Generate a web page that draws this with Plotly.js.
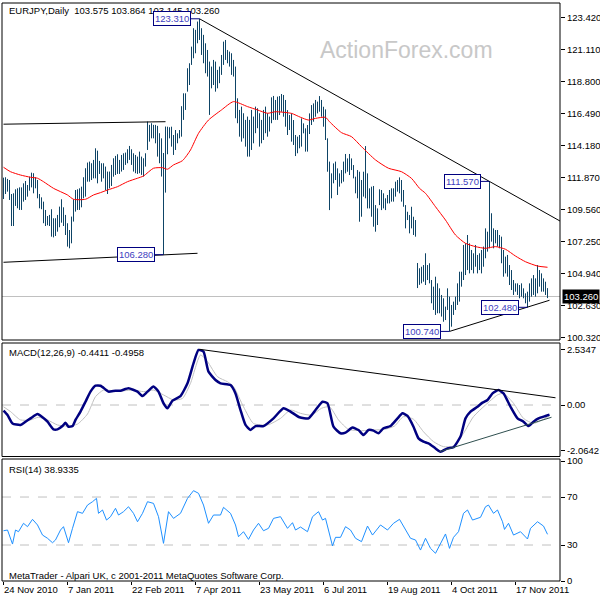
<!DOCTYPE html>
<html><head><meta charset="utf-8">
<script src="https://cdn.plot.ly/plotly-3.0.1.min.js"></script>
<style>html,body{margin:0;padding:0;background:#fff}#chart{width:600px;height:600px}</style>
</head><body><div id="chart"></div>
<script>
// ---------- DATA ----------
const symbolTitle = 'EURJPY,Daily';
const lastOHLC = [103.575, 103.864, 103.145, 103.260];
const macdTitle = 'MACD(12,26,9) -0.4411 -0.4958';
const rsiTitle = 'RSI(14) 38.9335';
const footerText = 'MetaTrader - Alpari UK, c 2001-2011 MetaQuotes Software Corp.';
const watermark = 'ActionForex.com';

const dateLabels = ['24 Nov 2010','7 Jan 2011','22 Feb 2011','7 Apr 2011','23 May 2011','6 Jul 2011','19 Aug 2011','4 Oct 2011','17 Nov 2011'];
const dateLabelIdx = [0,32,64,96,128,160,192,224,256];

const priceTicks = [123.42,121.11,118.80,116.49,114.18,111.87,109.56,107.25,104.94,102.63,100.32];
const macdTicks = [2.5347, 0, -2.0642];
const macdTickText = ['2.5347','0.00','-2.0642'];
const rsiTicks = [100,70,30,0];

// daily bar highs (index 0 = 24 Nov 2010)
const highs = [
111.84,111.87,111.75,111.67,110.66,110.71,111.00,111.07,111.14,111.14,
111.43,111.60,111.31,111.91,112.20,112.16,111.87,111.67,110.66,110.42,
110.11,109.51,109.07,109.15,109.56,108.91,108.91,109.15,109.75,110.28,
109.70,109.15,108.55,108.06,109.03,110.28,110.95,111.00,111.07,111.19,
111.87,112.52,112.93,113.00,112.88,113.12,113.96,113.79,113.05,112.88,
112.88,112.64,112.28,112.28,112.76,113.24,113.41,113.53,113.12,113.48,
113.60,113.65,113.89,114.13,113.89,113.60,113.48,113.36,113.72,
113.36,113.24,113.60,115.89,115.65,115.77,115.65,115.65,115.58,115.05,
114.68,113.62,115.53,115.52,115.48,115.52,114.92,115.28,115.04,115.28,
117.00,117.93,117.93,119.74,120.10,121.30,122.63,122.51,123.11,123.31,
122.63,122.15,121.54,121.06,120.22,119.86,120.34,120.22,119.62,119.86,
120.70,121.66,121.78,121.06,120.94,120.82,120.34,119.86,117.57,116.73,
116.97,116.49,116.01,116.25,116.01,116.73,116.25,116.97,116.85,116.49,
116.01,116.73,116.97,116.49,116.25,117.64,117.74,117.45,117.69,
117.73,117.88,117.81,117.45,116.72,116.36,116.48,116.00,114.92,114.80,
114.92,116.12,115.76,115.40,115.64,116.48,117.08,117.20,117.45,117.33,
117.73,117.45,116.96,116.77,114.68,113.00,112.15,112.87,113.00,112.51,
112.15,112.39,113.00,113.55,113.23,113.55,113.23,112.75,111.91,112.39,
112.27,111.67,112.27,114.12,112.15,111.07,111.19,111.24,109.86,109.62,
111.00,110.95,110.71,110.35,110.59,110.95,111.07,111.07,111.55,111.67,
111.86,111.67,110.95,109.86,109.38,109.14,109.74,109.02,108.78,
105.68,105.30,105.41,105.53,106.38,105.53,105.66,104.45,103.97,104.69,
104.21,103.85,103.37,103.13,102.53,103.85,103.25,102.65,102.89,103.25,
104.21,105.05,105.05,106.98,107.10,107.70,107.10,106.62,106.38,106.98,
106.26,106.38,106.62,106.86,108.18,107.94,111.57,109.27,108.18,108.06,
108.06,107.70,107.58,106.62,106.14,106.26,105.53,105.17,104.45,104.21,
104.21,104.09,104.21,103.85,103.49,103.61,104.21,104.57,104.81,104.57,
105.53,105.17,104.93,104.57,104.33,103.864
];
// daily bar lows
const lows = [
110.30,110.66,110.83,110.23,108.35,108.35,109.80,109.63,109.51,109.51,
110.11,110.23,110.47,110.90,111.14,110.71,111.07,110.35,109.63,109.56,
108.55,108.35,108.40,108.35,107.58,107.53,107.63,107.94,108.26,108.59,
108.35,107.70,106.86,106.74,107.10,108.67,109.39,109.51,109.51,109.70,
110.35,110.47,111.55,111.55,111.67,111.79,111.79,111.43,112.11,111.55,
111.79,110.95,110.66,111.07,111.24,111.91,112.03,112.11,112.11,112.28,
112.40,112.76,112.88,113.12,112.76,112.28,112.16,112.11,112.16,
112.04,111.92,112.64,113.84,114.44,114.68,114.68,114.32,113.36,112.88,
111.92,106.28,110.76,113.53,114.68,114.08,113.48,113.84,114.32,114.68,
114.80,116.01,116.73,118.05,118.53,119.98,120.46,120.82,121.54,121.78,
120.70,120.10,119.38,119.14,116.37,118.29,118.53,118.05,118.29,118.66,
119.26,119.98,120.34,120.10,119.86,119.26,119.14,116.13,115.77,114.80,
114.44,114.68,114.08,113.36,113.36,113.84,114.32,115.05,115.41,114.08,
114.32,114.56,115.05,114.80,115.17,115.77,116.01,116.01,116.01,
116.36,116.60,116.24,115.52,114.92,115.28,114.44,114.20,113.40,113.60,
113.96,114.08,115.04,113.72,113.72,114.99,115.64,115.88,116.24,116.48,
116.60,116.24,115.52,114.56,112.27,109.50,110.35,111.43,111.67,110.59,
111.19,111.43,111.55,112.15,112.27,112.03,112.39,111.79,110.71,110.35,
108.66,109.02,110.47,110.35,109.62,109.62,109.02,108.30,107.94,108.42,
109.86,109.50,109.62,109.50,109.98,109.98,110.11,110.11,110.47,110.83,
110.71,110.11,109.74,108.18,108.78,107.82,108.18,107.70,107.58,
103.87,104.10,104.21,104.33,104.09,104.45,104.21,102.77,102.29,101.93,
102.05,102.05,101.81,101.44,101.56,102.29,100.74,101.08,101.93,102.29,
102.65,102.89,103.97,104.45,104.81,105.17,104.93,105.17,104.93,105.41,
104.93,105.17,104.93,105.41,106.02,106.50,106.74,107.22,106.74,107.10,
106.86,106.74,105.66,104.69,104.93,104.69,104.09,103.73,103.37,103.61,
103.37,103.13,103.25,103.13,102.77,102.48,102.89,103.25,103.37,103.25,
103.49,103.97,103.61,103.61,103.37,103.145
];

// moving average (red), sampled
const maIdx = [0,3.5,8.5,13.5,17,20,25,28.5,32,35,41,45,48.5,52,57,62,67,70,75,79.5,82,85,89.5,93.5,97.5,102.5,109,115,122,127,132,136,144,148.5,152.5,156,161,163,169,174,179,186,192.5,199,204,208,211,216,221,226,231,236,241,246,251,256,261,267,272];
const maVal = [112.59,112.27,112.03,111.87,111.80,111.55,111.07,110.83,110.59,110.28,110.28,110.59,110.76,110.95,111.19,111.55,111.80,111.96,112.52,112.56,112.45,112.76,113.07,113.84,115.04,116.00,116.73,117.33,116.97,116.73,116.49,116.60,116.48,116.20,116.00,116.12,116.20,115.88,115.09,114.80,114.08,113.12,112.52,112.27,111.79,111.07,110.71,109.74,108.78,107.70,107.10,106.86,106.74,106.86,106.67,106.18,105.77,105.46,105.37];

// MACD main (navy) and signal (gray), sampled
const macdIdx = [0,2,4.5,8.5,11,13.5,17,19.5,22,25,27,29.5,31,32.5,34.5,36,38.5,41,43.5,46,48.5,51,52.5,56,58.5,62.5,67,69.5,72,75,77.5,80,82,84.5,88.5,92,95,97.5,100,102.5,106,108.5,113.5,116,118.5,121,123.5,126,130,135,140,143.5,148,152.5,156,159.5,162,165,168.5,171,174.5,177.5,180,182.5,185,187.5,190,193.5,197,199.5,202,205,207.5,210,212.5,216,218.5,222,225,228.5,231,233.5,237,239.5,242,244.5,247.5,250,253.5,257,260,262.5,265,267.5,271,273];
const macdVal = [-0.26,-0.46,-0.84,-0.91,-0.76,-0.61,-0.41,-0.56,-0.76,-1.11,-1.11,-0.96,-0.81,-0.99,-0.96,-0.68,-0.30,0.15,0.61,0.88,0.88,0.71,0.61,0.65,0.65,0.76,0.61,0.41,0.61,0.84,0.61,0.08,-0.15,0.20,0.41,0.99,1.90,2.51,2.43,1.52,1.14,0.99,0.91,0.53,-0.23,-0.91,-1.14,-0.96,-0.96,-0.61,-0.15,-0.30,-0.56,-0.61,-0.23,0.15,0.08,-0.99,-1.29,-1.26,-1.03,-1.14,-1.37,-1.14,-1.17,-1.29,-1.06,-0.96,-0.61,-0.38,-0.50,-0.99,-1.52,-1.67,-1.75,-1.98,-2.13,-1.98,-1.93,-1.44,-0.61,-0.30,-0.08,0.11,0.23,0.53,0.68,0.53,-0.08,-0.61,-0.76,-0.96,-0.76,-0.61,-0.50,-0.44];
const sigIdx = [0,3.5,8.5,13.5,17.5,22,27,32,37,42,46,50,55,60,65,70,75,80,85,89.5,93.5,98.5,102,107,112,115,120,125,132,138.5,143.5,148.5,154,159,163,167.5,172.5,179,185.5,190.5,195.5,200,205,210,215,220,225,230,235,241,247,250,255,260,265,270,273];
const sigVal = [-0.08,-0.30,-0.68,-0.68,-0.56,-0.68,-0.91,-0.96,-0.87,-0.41,0.38,0.68,0.65,0.65,0.68,0.61,0.68,0.46,0.23,0.30,0.99,2.28,1.98,1.29,1.06,0.84,-0.08,-0.84,-0.91,-0.61,-0.23,-0.38,-0.46,-0.15,-0.08,-0.68,-1.11,-1.17,-1.14,-1.11,-0.96,-0.53,-0.65,-1.22,-1.67,-1.90,-1.87,-1.29,-0.53,0.00,0.46,0.53,0.08,-0.61,-0.84,-0.65,-0.50];

// RSI(14), sampled
const rsiIdx = [0,2,4.5,6,7.5,10,12,14.5,17,19.5,22,24.5,26,28.5,30,32.5,34.5,37,39.5,42,44.5,46.5,47.5,49.5,51.5,53.5,56,57.5,60,62.5,65,67,69.5,72,75,77.5,80,82.5,85,88.5,92,95,97.5,100,102.5,105,108.5,110,113.5,116,117.5,120,122.5,125,127.5,130,132.5,135,138.5,142,144.5,146,148.5,152,154.5,157.5,159.5,161,164.5,166,168.5,171,173.5,176,179,182,184.5,188.5,192,195,198,201,203.5,206,208.5,211,213.5,216,218.5,221,223,225,227.5,230,232,234.5,238.5,241,242.5,245,247,249.5,250.5,252.5,255,258.5,262,263.5,267,270,272];
const rsiVal = [41.9,42.5,30.8,42.5,41.1,48.1,45.3,51.4,46.7,38.3,35.6,31.9,34.2,42.5,45.3,31.9,43.9,57.8,56.4,63.3,66.1,68.9,56.4,59.2,50.8,53.6,60.6,55.0,57.8,61.9,56.4,49.4,56.4,66.1,64.7,53.6,31.4,57.8,52.2,56.4,68.9,75.3,73.1,63.3,48.1,55.0,55.0,61.4,56.4,46.7,36.9,41.1,34.7,42.5,48.1,41.9,43.9,52.2,53.6,43.9,48.6,42.5,45.0,41.1,53.6,57.8,50.8,52.2,29.2,36.4,36.4,45.3,42.5,35.6,32.8,45.8,38.3,46.7,42.5,48.1,51.4,42.5,35.6,34.2,25.8,35.6,27.2,23.1,31.4,39.2,27.2,36.4,41.1,56.4,59.2,50.8,53.1,61.9,63.3,56.4,59.2,49.4,43.0,48.1,38.3,41.1,35.0,43.9,49.4,45.8,38.93];

// analyst trend lines [x0, y0, x1, y1] in bar-index / value units
const priceTrendLines = [
  [98, 123.31, 278.5, 108.69],
  [0, 115.70, 81, 115.88],
  [0, 105.73, 97, 106.38],
  [223, 100.74, 273, 102.99]
];
const macdTrendLines = [
  [98, 2.54, 276, 0.33, '#000000'],
  [218, -2.13, 274, -0.56, '#2f4f4f']
];
// labelled extremes
const markIdx = [98, 80, 243, 223, 262];
const markVal = [123.31, 106.28, 111.57, 100.74, 102.48];

// ---------- BUILD ----------
const FONT = 'Liberation Sans, Arial, sans-serif';
const n = Math.min(highs.length, lows.length);
const bx = [], by = [];
for (let i = 0; i < n; i++) { bx.push(i, i, null); by.push(lows[i], highs[i], null); }

const traces = [
  {type:'scatter', mode:'lines', x:bx, y:by, xaxis:'x', yaxis:'y', line:{color:'#0e4466', width:1}, hoverinfo:'skip', showlegend:false},
  {type:'scatter', mode:'lines', x:maIdx, y:maVal, xaxis:'x', yaxis:'y', line:{color:'#ff0000', width:1, shape:'spline', smoothing:0.6}, hoverinfo:'skip', showlegend:false},
  {type:'scatter', mode:'lines', x:sigIdx, y:sigVal, xaxis:'x', yaxis:'y2', line:{color:'#c0c0c0', width:1, shape:'spline', smoothing:0.6}, hoverinfo:'skip', showlegend:false},
  {type:'scatter', mode:'lines', x:macdIdx, y:macdVal, xaxis:'x', yaxis:'y2', line:{color:'#000080', width:2.5, shape:'spline', smoothing:0.5}, hoverinfo:'skip', showlegend:false},
  {type:'scatter', mode:'lines', x:rsiIdx, y:rsiVal, xaxis:'x', yaxis:'y3', line:{color:'#1e90ff', width:1}, hoverinfo:'skip', showlegend:false}
];

const H = 600, mT = 3, mB = 19, plotH = H - mT - mB;
const pxToPaper = y => (H - mB - y) / plotH;
const dMain = [pxToPaper(340), 1];
const dMacd = [pxToPaper(456.5), pxToPaper(343)];
const dRsi = [0, pxToPaper(459)];

const yBase = {side:'right', anchor:'x', showgrid:false, zeroline:false, showline:false,
  ticks:'outside', ticklen:4, tickcolor:'#000', tickwidth:1,
  tickfont:{family:FONT, size:9.5, color:'#000'}, fixedrange:true};

const shapes = [];
[dMain, dMacd, dRsi].forEach(d => shapes.push({type:'rect', xref:'paper', yref:'paper', x0:0, x1:1, y0:d[0], y1:d[1], line:{color:'#000', width:1}, fillcolor:'rgba(0,0,0,0)', layer:'above'}));
shapes.push({type:'line', xref:'paper', x0:0, x1:1, yref:'y', y0:lastOHLC[3], y1:lastOHLC[3], line:{color:'#c0c0c0', width:1}, layer:'below'});
shapes.push({type:'line', xref:'paper', x0:0, x1:1, yref:'y2', y0:0, y1:0, line:{color:'#c0c0c0', width:1, dash:'dash'}, layer:'below'});
[70, 30].forEach(v => shapes.push({type:'line', xref:'paper', x0:0, x1:1, yref:'y3', y0:v, y1:v, line:{color:'#c0c0c0', width:1, dash:'dash'}, layer:'below'}));
priceTrendLines.forEach(t => shapes.push({type:'line', xref:'x', yref:'y', x0:t[0], y0:t[1], x1:t[2], y1:t[3], line:{color:'#000', width:1}}));
macdTrendLines.forEach(t => shapes.push({type:'line', xref:'x', yref:'y2', x0:t[0], y0:t[1], x1:t[2], y1:t[3], line:{color:t[4], width:1}}));
markIdx.forEach((ix, k) => shapes.push({type:'line', xref:'x', yref:'y', x0:ix - 4.5, x1:ix, y0:markVal[k], y1:markVal[k], line:{color:'#000080', width:1}}));

const ann = [];
const txt = (text, x, y, opts={}) => ann.push(Object.assign({xref:'paper', yref:'paper', x:x, y:y, xanchor:'left', yanchor:'middle', text:text, showarrow:false, font:{family:FONT, size:9.5, color:'#000'}}, opts));
txt(symbolTitle + '\u00a0\u00a0' + lastOHLC.map(v => v.toFixed(3)).join(' '), 0.009, pxToPaper(11));
txt(macdTitle, 0.009, pxToPaper(352));
txt(rsiTitle, 0.009, pxToPaper(469));
txt(footerText, 0.009, pxToPaper(575));
ann.push({xref:'paper', yref:'paper', x:(406-2)/558, y:pxToPaper(50), xanchor:'center', yanchor:'middle', text:watermark, showarrow:false, font:{family:FONT, size:23, color:'#c8c8c8'}});
markIdx.forEach((ix, k) => ann.push({xref:'x', yref:'y', x:ix - 4.5, y:markVal[k], xanchor:'right', yanchor:'middle', text:markVal[k].toFixed(3), showarrow:false, font:{family:FONT, size:9.5, color:'#4040c0'}, bgcolor:'#ffffff', bordercolor:'#000080', borderwidth:1, borderpad:1}));
ann.push({xref:'paper', yref:'y', x:1, xshift:2, y:lastOHLC[3], xanchor:'left', yanchor:'middle', text:lastOHLC[3].toFixed(3), showarrow:false, font:{family:FONT, size:9.5, color:'#fff'}, bgcolor:'#000', borderpad:1});

const layout = {
  width:600, height:600, margin:{l:2, r:40, t:mT, b:mB, pad:0},
  paper_bgcolor:'#fff', plot_bgcolor:'#fff', showlegend:false,
  xaxis:{domain:[0,1], range:[-0.75, 278.25], anchor:'y3', showgrid:false, zeroline:false, showline:false,
    tickmode:'array', tickvals:dateLabelIdx, ticktext:dateLabels, ticks:'outside', ticklen:3, tickcolor:'#000',
    ticklabelposition:'outside right', tickfont:{family:FONT, size:9.5, color:'#000'}, fixedrange:true},
  yaxis:Object.assign({}, yBase, {domain:dMain, range:[100.12, 124.45], tickmode:'array', tickvals:priceTicks, ticktext:priceTicks.map(v => v.toFixed(3))}),
  yaxis2:Object.assign({}, yBase, {domain:dMacd, range:[-2.348, 2.827], tickmode:'array', tickvals:macdTicks, ticktext:macdTickText}),
  yaxis3:Object.assign({}, yBase, {domain:dRsi, range:[0, 101.7], tickmode:'array', tickvals:rsiTicks, ticktext:rsiTicks.map(String)}),
  shapes:shapes, annotations:ann
};

Plotly.newPlot('chart', traces, layout, {staticPlot:true, displayModeBar:false});
</script></body></html>
